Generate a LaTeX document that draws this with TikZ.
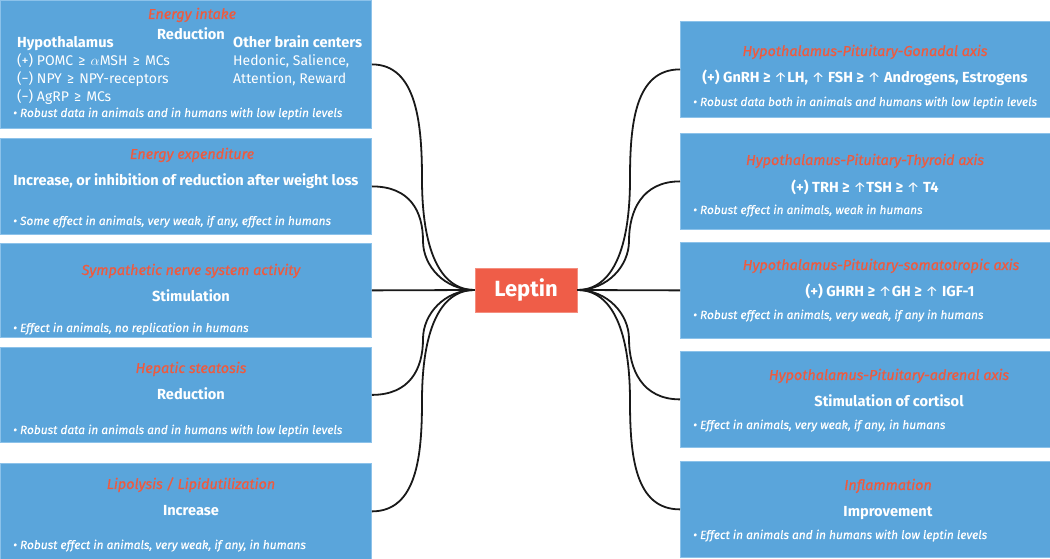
\documentclass[tikz,border=0pt]{standalone}
\usepackage{fontspec}
\setmainfont{Fira Sans}
\newfontfamily\titlefont{Fira Sans}[FakeBold=0.6]
\newfontfamily\notefont{Fira Sans}[FakeBold=0.25]
\usetikzlibrary{calc}
\definecolor{boxblue}{HTML}{5AA5DB}
\definecolor{boxedge}{HTML}{8CC2EA}
\definecolor{titlered}{HTML}{EF5A3E}
\definecolor{lepred}{HTML}{EF5D48}
\newcommand{\up}{\textmd{↑}}
\newcommand{\gesp}{\hspace{1.5pt}≥\hspace{1.5pt}}
\tikzset{
  box/.style={fill=boxblue, draw=boxedge, line width=0.8pt, inner sep=0pt, anchor=north west},
  ttl/.style={font=\fontsize{14.4}{16}\selectfont\titlefont\itshape, text=titlered, anchor=base, inner sep=0pt},
  mainb/.style={font=\fontsize{14.6}{16}\selectfont\bfseries, text=white, anchor=base, inner sep=0pt},
  regb/.style={font=\fontsize{14.6}{16}\selectfont\bfseries, text=white, anchor=base west, inner sep=0pt},
  reg/.style={font=\fontsize{14}{16}\selectfont, text=white, anchor=base west, inner sep=0pt},
  note/.style={font=\fontsize{11.9}{13}\selectfont\notefont\itshape, text=white, anchor=base west, inner sep=0pt},
  conn/.style={line width=1.8pt, black!90},
}
\begin{document}
\begin{tikzpicture}[x=1pt,y=1pt]
\useasboundingbox (0,0) rectangle (1050,559);
% left boxes
\node[box, minimum width=371pt, minimum height=128pt] (L1) at (0,559) {};
\node[box, minimum width=371pt, minimum height=96pt] (L2) at (0,421) {};
\node[box, minimum width=371pt, minimum height=94pt] (L3) at (0,316) {};
\node[box, minimum width=371pt, minimum height=95pt] (L4) at (0,212) {};
\node[box, minimum width=371pt, minimum height=96pt] (L5) at (0,96) {};
% right boxes
\node[box, minimum width=370pt, minimum height=96pt] (R1) at (680,538) {};
\node[box, minimum width=370pt, minimum height=96pt] (R2) at (680,426) {};
\node[box, minimum width=370pt, minimum height=96pt] (R3) at (680,317) {};
\node[box, minimum width=370pt, minimum height=96pt] (R4) at (680,208) {};
\node[box, minimum width=370pt, minimum height=96pt] (R5) at (680,98) {};
% centre
\node[fill=lepred, draw=lepred!70!white, line width=0.8pt, minimum width=102pt, minimum height=44pt, inner sep=0pt,
  text=white, font=\fontsize{22}{24}\selectfont\bfseries] (lep) at (526,269) {Leptin};
% connector bends
\coordinate (m1) at (422,380);
\coordinate (m2) at (423,318);
\coordinate (m4) at (423,220);
\coordinate (m5) at (422,158);
\coordinate (n1) at (630,380);
\coordinate (n2) at (629,318);
\coordinate (n4) at (629,220);
\coordinate (n5) at (630,158);
% left connectors
\draw[conn] (L1.east) .. controls ($(L1.east)+(45,0)$) and ($(m1)+(0,55)$) .. (m1)
  .. controls ($(m1)+(0,-70)$) and ($(lep.west)+(-35,0)$) .. (lep.west);
\draw[conn] (L2.east) .. controls ($(L2.east)+(38,0)$) and ($(m2)+(0,30)$) .. (m2)
  .. controls ($(m2)+(0,-25)$) and ($(lep.west)+(-30,0)$) .. (lep.west);
\draw[conn] (L3.east) -- (lep.west);
\draw[conn] (L4.east) .. controls ($(L4.east)+(38,0)$) and ($(m4)+(0,-30)$) .. (m4)
  .. controls ($(m4)+(0,25)$) and ($(lep.west)+(-30,0)$) .. (lep.west);
\draw[conn] (L5.east) .. controls ($(L5.east)+(45,0)$) and ($(m5)+(0,-55)$) .. (m5)
  .. controls ($(m5)+(0,70)$) and ($(lep.west)+(-35,0)$) .. (lep.west);
% right connectors
\draw[conn] (R1.west) .. controls ($(R1.west)+(-45,0)$) and ($(n1)+(0,55)$) .. (n1)
  .. controls ($(n1)+(0,-70)$) and ($(lep.east)+(35,0)$) .. (lep.east);
\draw[conn] (R2.west) .. controls ($(R2.west)+(-38,0)$) and ($(n2)+(0,30)$) .. (n2)
  .. controls ($(n2)+(0,-25)$) and ($(lep.east)+(30,0)$) .. (lep.east);
\draw[conn] (R3.west) -- (lep.east);
\draw[conn] (R4.west) .. controls ($(R4.west)+(-38,0)$) and ($(n4)+(0,-30)$) .. (n4)
  .. controls ($(n4)+(0,25)$) and ($(lep.east)+(30,0)$) .. (lep.east);
\draw[conn] (R5.west) .. controls ($(R5.west)+(-45,0)$) and ($(n5)+(0,-55)$) .. (n5)
  .. controls ($(n5)+(0,70)$) and ($(lep.east)+(35,0)$) .. (lep.east);
% L1 texts
\node[ttl] (l1t) at (192,540) {Energy intake};
\node[mainb] (l1m) at (191,519) {Reduction};
\node[regb] (l1h) at (17,511) {Hypothalamus};
\node[reg] (l1a) at (17,493) {(+) POMC \gesp{} $\alpha$MSH \gesp{} MCs};
\node[reg] (l1b) at (17,475) {(−) NPY \gesp{} NPY-receptors};
\node[reg] (l1c) at (17,457) {(−) AgRP \gesp{} MCs};
\node[regb] (l1o) at (233,511) {Other brain centers};
\node[reg] (l1d) at (233,493) {Hedonic, Salience,};
\node[reg] (l1e) at (233,475) {Attention, Reward};
\node[note] (l1n) at (13,442) {• Robust data in animals and in humans with low leptin levels};
% L2
\node[ttl] (l2t) at (192,400) {Energy expenditure};
\node[mainb] (l2m) at (186,373) {Increase, or inhibition of reduction after weight loss};
\node[note] (l2n) at (13,334) {• Some effect in animals, very weak, if any, effect in humans};
% L3
\node[ttl] (l3t) at (191,284) {Sympathetic nerve system activity};
\node[mainb] (l3m) at (191,257) {Stimulation};
\node[note] (l3n) at (13,227) {• Effect in animals, no replication in humans};
% L4
\node[ttl] (l4t) at (191,186) {Hepatic steatosis};
\node[mainb] (l4m) at (191,159) {Reduction};
\node[note] (l4n) at (13,125) {• Robust data in animals and in humans with low leptin levels};
% L5
\node[ttl] (l5t) at (191,70) {Lipolysis / Lipidutilization};
\node[mainb] (l5m) at (191,43) {Increase};
\node[note] (l5n) at (13,10) {• Robust effect in animals, very weak, if any, in humans};
% R1
\node[ttl] (r1t) at (865,503) {Hypothalamus-Pituitary-Gonadal axis};
\node[mainb] (r1m) at (865,476) {(+) GnRH ≥ \up LH, \up\ FSH ≥ \up\ Androgens, Estrogens};
\node[note] (r1n) at (693,453) {• Robust data both in animals and humans with low leptin levels};
% R2
\node[ttl] (r2t) at (865,394) {Hypothalamus-Pituitary-Thyroid axis};
\node[mainb] (r2m) at (865,366) {(+) TRH ≥ \up TSH ≥ \up\ T4};
\node[note] (r2n) at (693,345) {• Robust effect in animals, weak in humans};
% R3
\node[ttl] (r3t) at (881,289) {Hypothalamus-Pituitary-somatotropic axis};
\node[mainb] (r3m) at (890,262) {(+) GHRH ≥ \up GH ≥ \up\ IGF-1};
\node[note] (r3n) at (693,240) {• Robust effect in animals, very weak, if any in humans};
% R4
\node[ttl] (r4t) at (889,179) {Hypothalamus-Pituitary-adrenal axis};
\node[mainb] (r4m) at (889,152) {Stimulation of cortisol};
\node[note] (r4n) at (693,130) {• Effect in animals, very weak, if any, in humans};
% R5
\node[ttl] (r5t) at (888,69) {Inflammation};
\node[mainb] (r5m) at (888,42) {Improvement};
\node[note] (r5n) at (693,20) {• Effect in animals and in humans with low leptin levels};
\end{tikzpicture}
\end{document}
